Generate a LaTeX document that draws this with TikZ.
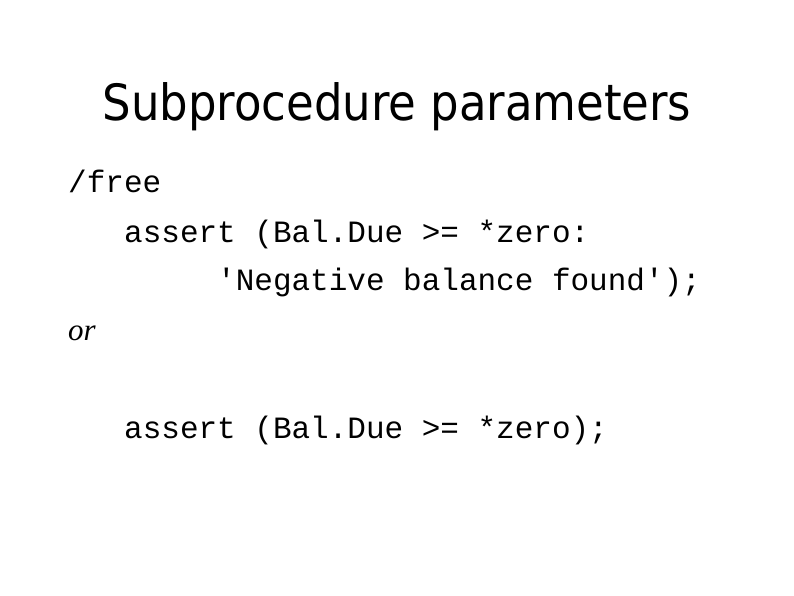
\documentclass[tikz,border=0pt]{standalone}
\usepackage{fontspec}
\setmainfont{Liberation Serif}
\newfontfamily\titlefont{DejaVu Sans Condensed}
\newfontfamily\codefont{Liberation Mono}
\begin{document}
\begin{tikzpicture}[x=1pt,y=-1pt,
  code/.style={anchor=base west,inner sep=0pt,font=\codefont\fontsize{31}{31}\selectfont}]
\useasboundingbox[fill=white] (0,0) rectangle (794,595);
\node[anchor=base,inner sep=0pt,font=\titlefont\fontsize{50}{50}\selectfont] (title) at (397,120) {Subprocedure parameters};
\node[code] (free) at (68,192) {/free};
\node[code] (a1) at (124,242) {assert (Bal.Due >= *zero:};
\node[code] (a2) at (217,290) {'Negative balance found');};
\node[anchor=base west,inner sep=0pt,font=\itshape\fontsize{31}{31}\selectfont] (or) at (68,340) {or};
\node[code] (a3) at (124,438) {assert (Bal.Due >= *zero);};
\end{tikzpicture}
\end{document}
